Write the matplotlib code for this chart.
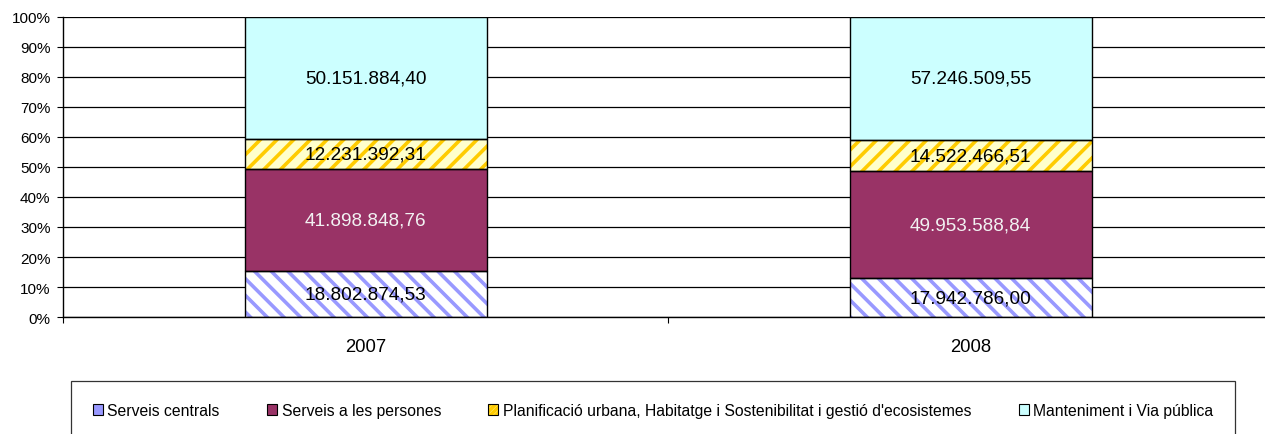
import matplotlib
matplotlib.use("Agg")
import matplotlib.pyplot as plt
from matplotlib.patches import Patch
from matplotlib.legend_handler import HandlerTuple
import numpy as np

plt.rcParams['font.family'] = ['Liberation Sans', 'DejaVu Sans']
plt.rcParams['hatch.linewidth'] = 2.6

years = ["2007", "2008"]
series_names = ["Serveis centrals", "Serveis a les persones",
                "Planificació urbana, Habitatge i Sostenibilitat i gestió d'ecosistemes",
                "Manteniment i Via pública"]
serveis_centrals = [18802874.53, 17942786.00]
serveis_persones = [41898848.76, 49953588.84]
planificacio = [12231392.31, 14522466.51]
manteniment = [50151884.40, 57246509.55]

face_colors = ['#FFFFFF', '#993366', '#FFFFCC', '#CCFFFF']
hatch_colors = ['#9999FF', '#993366', '#FFCC00', '#CCFFFF']
hatches = ['\\\\', None, '//', None]
label_colors = ['black', '#F2F2F2', 'black', 'black']


def fmt(v):
    s = f"{v:,.2f}"
    return s.replace(',', 'X').replace('.', ',').replace('X', '.')


data = np.array([serveis_centrals, serveis_persones, planificacio, manteniment])
totals = data.sum(axis=0)
pct = data / totals * 100

fig = plt.figure(figsize=(12.65, 4.35), dpi=100)
ax = fig.add_axes([63 / 1265, (435 - 318) / 435, 1210 / 1265, 300 / 435])

x = np.arange(len(years))
width = 0.4
bottom = np.zeros(len(years))
for i in range(4):
    ax.bar(x, pct[i], width, bottom=bottom, color=face_colors[i],
           edgecolor=hatch_colors[i], hatch=hatches[i], linewidth=0, zorder=2)
    cont = ax.bar(x, pct[i], width, bottom=bottom, fill=False,
                  edgecolor='black', linewidth=1.0, zorder=3)
    ax.bar_label(cont, labels=[fmt(v) for v in data[i]], label_type='center',
                 fontsize=13.7, color=label_colors[i], zorder=4)
    bottom += pct[i]

ax.set_xlim(-0.5, 1.5)
ax.set_ylim(0, 100)
ax.set_yticks(np.arange(0, 101, 10))
ax.set_yticklabels([f"{v}%" for v in range(0, 101, 10)], fontsize=11)
ax.yaxis.grid(True, color='black', linewidth=0.9, zorder=0)
ax.set_axisbelow(True)

ax.set_xticks([-0.5, 0.5, 1.5])
ax.set_xticklabels([])
ax.set_xticks(x, minor=True)
ax.set_xticklabels(years, minor=True, fontsize=13.3)
ax.tick_params(axis='x', which='major', direction='out', length=4, color='black')
ax.tick_params(axis='x', which='minor', length=0, pad=15)
ax.tick_params(axis='y', direction='out', length=4, pad=5, color='black')

for s in ['top', 'right']:
    ax.spines[s].set_visible(False)
ax.spines['left'].set_color('black')
ax.spines['bottom'].set_color('black')
ax.spines['left'].set_linewidth(1.0)
ax.spines['bottom'].set_linewidth(1.0)

handles = [
    Patch(facecolor='#9999FF', edgecolor='black', linewidth=0.8),
    Patch(facecolor='#993366', edgecolor='black', linewidth=0.8),
    (Patch(facecolor='#FFFFCC', edgecolor='#FFCC00', hatch='//////', linewidth=0),
     Patch(fill=False, edgecolor='black', linewidth=0.8)),
    Patch(facecolor='#CCFFFF', edgecolor='black', linewidth=0.8),
]
leg = fig.legend(handles, series_names, loc='upper center',
                 bbox_to_anchor=(653 / 1265, 1 - 382 / 435), ncol=4,
                 fontsize=11.3, frameon=True, fancybox=False, shadow=False,
                 handlelength=0.64, handleheight=0.64, handletextpad=0.3,
                 columnspacing=3.0, borderpad=1.4, borderaxespad=0,
                 handler_map={tuple: HandlerTuple(ndivide=1, pad=0)})
leg.get_frame().set_edgecolor('black')
leg.get_frame().set_linewidth(0.9)

fig.savefig("out.png", dpi=100)
